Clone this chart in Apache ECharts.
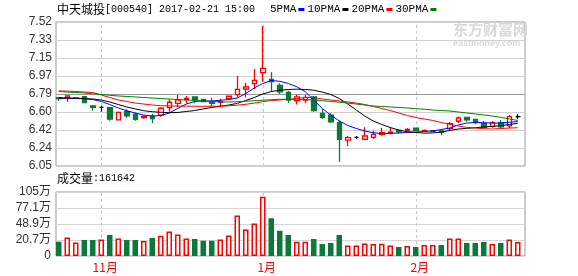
<!DOCTYPE html>
<html>
<head>
<meta charset="utf-8">
<script src="https://cdn.jsdelivr.net/npm/echarts@6/dist/echarts.min.js"></script>
<style>
  html, body { margin: 0; padding: 0; background: #fff; }
  #chart { width: 578px; height: 276px; }
</style>
</head>
<body>
<div id="chart"></div>
<script>
// trading days shown (Nov 28 - Dec 30 suspended)
const dates = [
  '2016-10-25', '2016-10-26', '2016-10-27', '2016-10-28', '2016-10-31',
  '2016-11-01', '2016-11-02', '2016-11-03', '2016-11-04', '2016-11-07',
  '2016-11-08', '2016-11-09', '2016-11-10', '2016-11-11', '2016-11-14',
  '2016-11-15', '2016-11-16', '2016-11-17', '2016-11-18', '2016-11-21',
  '2016-11-22', '2016-11-23', '2016-11-24', '2016-11-25',
  '2017-01-03', '2017-01-04', '2017-01-05', '2017-01-06', '2017-01-09',
  '2017-01-10', '2017-01-11', '2017-01-12', '2017-01-13', '2017-01-16',
  '2017-01-17', '2017-01-18', '2017-01-19', '2017-01-20', '2017-01-23',
  '2017-01-24', '2017-01-25', '2017-01-26',
  '2017-02-03', '2017-02-06', '2017-02-07', '2017-02-08', '2017-02-09',
  '2017-02-10', '2017-02-13', '2017-02-14', '2017-02-15', '2017-02-16',
  '2017-02-17', '2017-02-20', '2017-02-21'
]

const opens = [
  6.749, 6.751, 6.741, 6.758, 6.663, 6.650, 6.646, 6.521, 6.605, 6.579,
  6.546, 6.561, 6.571, 6.646, 6.690, 6.729, 6.755, 6.731, 6.707, 6.701,
  6.737, 6.778, 6.836, 6.890, 7.002, 6.934, 6.873, 6.800, 6.717, 6.724,
  6.755, 6.589, 6.571, 6.493, 6.317, 6.345, 6.325, 6.345, 6.375, 6.385,
  6.414, 6.412, 6.439, 6.406, 6.409, 6.409, 6.432, 6.508, 6.546, 6.526,
  6.487, 6.455, 6.493, 6.460, 6.554
]
const closes = [
  6.737, 6.765, 6.746, 6.697, 6.650, 6.650, 6.531, 6.599, 6.564, 6.528,
  6.556, 6.534, 6.640, 6.701, 6.724, 6.739, 6.731, 6.707, 6.690, 6.707,
  6.762, 6.833, 6.856, 6.924, 7.046, 6.910, 6.808, 6.724, 6.755, 6.751,
  6.615, 6.548, 6.503, 6.325, 6.341, 6.345, 6.358, 6.375, 6.392, 6.396,
  6.399, 6.426, 6.416, 6.416, 6.409, 6.394, 6.483, 6.541, 6.521, 6.497,
  6.447, 6.493, 6.450, 6.554, 6.554
]
const lows = [
  6.714, 6.707, 6.734, 6.690, 6.615, 6.605, 6.514, 6.516, 6.544, 6.514,
  6.534, 6.487, 6.554, 6.605, 6.650, 6.690, 6.690, 6.704, 6.663, 6.650,
  6.734, 6.751, 6.751, 6.836, 6.910, 6.808, 6.785, 6.697, 6.678, 6.690,
  6.605, 6.531, 6.493, 6.097, 6.256, 6.328, 6.317, 6.328, 6.361, 6.375,
  6.383, 6.399, 6.409, 6.396, 6.402, 6.365, 6.416, 6.490, 6.503, 6.477,
  6.436, 6.442, 6.436, 6.439, 6.528
]
const highs = [
  6.755, 6.770, 6.751, 6.762, 6.673, 6.663, 6.653, 6.607, 6.629, 6.592,
  6.566, 6.585, 6.650, 6.731, 6.775, 6.765, 6.760, 6.734, 6.744, 6.737,
  6.768, 6.968, 6.900, 7.039, 7.476, 7.006, 6.894, 6.819, 6.780, 6.775,
  6.765, 6.629, 6.589, 6.516, 6.358, 6.358, 6.447, 6.412, 6.442, 6.444,
  6.424, 6.439, 6.444, 6.424, 6.416, 6.416, 6.500, 6.556, 6.554, 6.531,
  6.510, 6.510, 6.521, 6.572, 6.579
]

const ma5 = [
  6.741, 6.741, 6.739, 6.737, 6.729, 6.709, 6.678, 6.643, 6.615, 6.592,
  6.571, 6.561, 6.566, 6.592, 6.638, 6.683, 6.709, 6.714, 6.714, 6.721,
  6.729, 6.744, 6.790, 6.846, 6.892, 6.922, 6.914, 6.892, 6.859, 6.808,
  6.724, 6.638, 6.571, 6.511, 6.465, 6.434, 6.409, 6.391, 6.383, 6.385,
  6.389, 6.394, 6.399, 6.404, 6.409, 6.424, 6.439, 6.470, 6.490, 6.495,
  6.493, 6.490, 6.490, 6.497, 6.505
]
const ma10 = [
  6.747, 6.744, 6.742, 6.739, 6.734, 6.724, 6.704, 6.678, 6.653, 6.633,
  6.615, 6.605, 6.599, 6.595, 6.597, 6.607, 6.617, 6.633, 6.648, 6.660,
  6.673, 6.690, 6.719, 6.749, 6.785, 6.810, 6.823, 6.831, 6.834, 6.831,
  6.823, 6.805, 6.780, 6.739, 6.683, 6.622, 6.561, 6.511, 6.475, 6.444,
  6.419, 6.401, 6.394, 6.387, 6.389, 6.399, 6.414, 6.429, 6.436, 6.442,
  6.450, 6.455, 6.463, 6.475, 6.487
]
const ma20 = [
  6.816, 6.814, 6.811, 6.805, 6.800, 6.775, 6.749, 6.724, 6.709, 6.693,
  6.683, 6.673, 6.666, 6.663, 6.663, 6.661, 6.660, 6.660, 6.660, 6.661,
  6.665, 6.671, 6.680, 6.693, 6.707, 6.719, 6.724, 6.731, 6.739, 6.749,
  6.749, 6.734, 6.724, 6.714, 6.704, 6.693, 6.678, 6.658, 6.638, 6.617,
  6.592, 6.566, 6.546, 6.531, 6.516, 6.495, 6.477, 6.460, 6.446, 6.439,
  6.432, 6.429, 6.434, 6.439, 6.442
]
const ma30 = [
  6.811, 6.805, 6.800, 6.795, 6.787, 6.780, 6.772, 6.765, 6.760, 6.755,
  6.749, 6.744, 6.739, 6.734, 6.729, 6.724, 6.719, 6.714, 6.709, 6.704,
  6.704, 6.707, 6.711, 6.717, 6.721, 6.727, 6.731, 6.731, 6.731, 6.729,
  6.724, 6.717, 6.709, 6.701, 6.693, 6.683, 6.673, 6.663, 6.658, 6.653,
  6.648, 6.643, 6.636, 6.630, 6.622, 6.617, 6.612, 6.602, 6.592, 6.582,
  6.572, 6.561, 6.548, 6.531, 6.516
]

// volume, 万
const volumes = [
  23.4, 30.5, 22.3, 26.1, 26.1, 27.2, 34.3, 28.8, 26.1, 26.1,
  24.5, 29.4, 33.2, 40.3, 35.4, 28.8, 27.8, 25.0, 25.0, 27.2,
  33.7, 66.4, 43.5, 53.3, 97.4, 62.1, 41.4, 34.3, 23.4, 23.4,
  27.8, 19.6, 21.2, 34.3, 17.4, 17.4, 20.7, 19.6, 20.1, 17.4,
  14.7, 16.3, 14.7, 18.0, 18.0, 18.0, 28.8, 28.8, 21.2, 21.2,
  22.9, 19.6, 21.2, 27.2, 22.9
]
const volTickLabels = ['0', '20.7万', '48.9万', '77.1万', '105万']
const lastVolume = '161642'

const UP = '#ff0000'
const DOWN = '#0a7a3a'
const CJK = '"Noto Sans CJK SC"'

const monthStarts = dates.filter((d, i) => i > 0 && d.slice(5, 7) !== dates[i - 1].slice(5, 7))

const candleData = dates.map((d, i) => {
  const item = {value: [opens[i], closes[i], lows[i], highs[i]]}
  if (opens[i] === closes[i]) {
    item.itemStyle = {borderColor: '#000', borderColor0: '#000', borderColorDoji: '#000'}
  }
  return item
})

const volData = volumes.map((v, i) => {
  const up = closes[i] >= opens[i]
  return {
    value: v,
    itemStyle: up
        ? {color: '#fff', borderColor: UP, borderWidth: 1.5}
        : {color: DOWN, borderColor: DOWN, borderWidth: 1.5},
  }
})

const monthMarks = (z) => ({
  silent: true,
  symbol: 'none',
  z: z,
  label: {show: false},
  lineStyle: {color: '#c8c8c8', type: [3, 3], width: 1},
  data: monthStarts.map(d => ({xAxis: d})),
})

const maLine = (name, data, color) => ({
  name,
  type: 'line',
  xAxisIndex: 1,
  yAxisIndex: 1,
  data,
  symbol: 'none',
  color,
  lineStyle: {color, width: 1},
  z: 3,
})

const richText = {
  cn: {fontFamily: CJK, fontSize: 12, fontWeight: 'normal', color: '#000'},
  en: {fontFamily: 'Liberation Mono', fontSize: 10, fontWeight: 'normal', color: '#000'},
}

const chart = echarts.init(document.getElementById('chart'))

chart.setOption({
  animation: false,
  title: [
    {
      left: 57,
      top: 3,
      padding: 0,
      text: '{cn|中天城投}{en|[000540] 2017-02-21 15:00}',
      textStyle: {fontWeight: 'normal', rich: richText},
    },
    {
      left: 57,
      top: 172,
      padding: 0,
      text: '{cn|成交量}{en|:' + lastVolume + '}',
      textStyle: {fontWeight: 'normal', rich: richText},
    },
  ],
  legend: {
    left: 270,
    top: 4,
    padding: 0,
    itemGap: 3,
    itemWidth: 6,
    itemHeight: 3,
    icon: 'rect',
    align: 'right',
    selectedMode: false,
    textStyle: {fontFamily: 'Liberation Mono', fontSize: 11, color: '#000', padding: [0, -3, 0, 0]},
    data: ['5PMA', '10PMA', '20PMA', '30PMA'],
  },
  graphic: [
    {
      type: 'text',
      left: 453,
      top: 22,
      z: 0,
      style: {text: '东方财富网', font: 'bold 15px ' + CJK, fill: '#d9d9d9'},
    },
    {
      type: 'text',
      left: 453,
      top: 39,
      z: 0,
      style: {text: 'eastmoney.com', font: 'bold 9px "Liberation Sans"', fill: '#d9d9d9'},
    },
  ],
  grid: [
    {left: 56, right: 53, top: 22, height: 144, show: true, borderColor: '#999', borderWidth: 1},
    {left: 54.5, right: 56, top: 22, height: 144},
    {left: 56, right: 53, top: 192, height: 64, show: true, borderColor: '#999', borderWidth: 1},
    {left: 54.5, right: 56, top: 192, height: 64},
  ],
  xAxis: [
    {gridIndex: 0, type: 'value', min: 0, max: 1, show: false},
    {gridIndex: 1, type: 'category', data: dates, show: false},
    {gridIndex: 2, type: 'value', min: 0, max: 1, show: false},
    {
      gridIndex: 3,
      type: 'category',
      data: dates,
      axisLine: {show: false},
      axisTick: {show: false},
      axisLabel: {
        margin: 5,
        interval: (index, value) => monthStarts.includes(value),
        formatter: value => '{m|' + parseInt(value.slice(5, 7), 10) + '月}',
        rich: {
          m: {color: UP, fontSize: 12, fontFamily: CJK, padding: [0, 0, 0, 8]},
        },
      },
    },
  ],
  yAxis: [
    {
      gridIndex: 0,
      type: 'value',
      min: 6.053,
      max: 7.517,
      interval: 0.183,
      axisLine: {show: false},
      axisTick: {show: false},
      axisLabel: {
        margin: 4,
        color: '#333',
        fontSize: 12,
        fontFamily: 'Liberation Sans',
        formatter: value => value.toFixed(2),
      },
      splitLine: {
        lineStyle: {
          color: ['#d0d0d0', '#d0d0d0', '#d0d0d0', '#d0d0d0', '#999', '#d0d0d0', '#d0d0d0', '#d0d0d0', '#d0d0d0'],
          width: 1,
        },
      },
    },
    {gridIndex: 1, type: 'value', min: 6.053, max: 7.517, show: false},
    {
      gridIndex: 2,
      type: 'value',
      min: 0,
      max: 105,
      interval: 26.25,
      axisLine: {show: false},
      axisTick: {show: false},
      axisLabel: {
        margin: 5,
        color: '#333',
        fontSize: 12,
        fontFamily: 'Liberation Sans, ' + CJK,
        formatter: (value, index) => volTickLabels[index],
      },
      splitLine: {lineStyle: {color: '#d6d6d6', width: 1}},
    },
    {gridIndex: 3, type: 'value', min: 0, max: 105, show: false},
  ],
  series: [
    {
      name: 'K',
      type: 'candlestick',
      xAxisIndex: 1,
      yAxisIndex: 1,
      barWidth: 5,
      data: candleData,
      z: 2,
      itemStyle: {
        color: '#fff',
        color0: DOWN,
        borderColor: UP,
        borderColor0: DOWN,
        borderWidth: 1.3,
      },
      markLine: monthMarks(1),
    },
    maLine('5PMA', ma5, '#0000ff'),
    maLine('10PMA', ma10, '#000000'),
    maLine('20PMA', ma20, '#ff0000'),
    maLine('30PMA', ma30, '#008000'),
    {
      name: '成交量',
      type: 'bar',
      xAxisIndex: 3,
      yAxisIndex: 3,
      barWidth: 5.5,
      data: volData,
      z: 2,
      markLine: monthMarks(1),
    },
  ],
})
</script>
</body>
</html>
